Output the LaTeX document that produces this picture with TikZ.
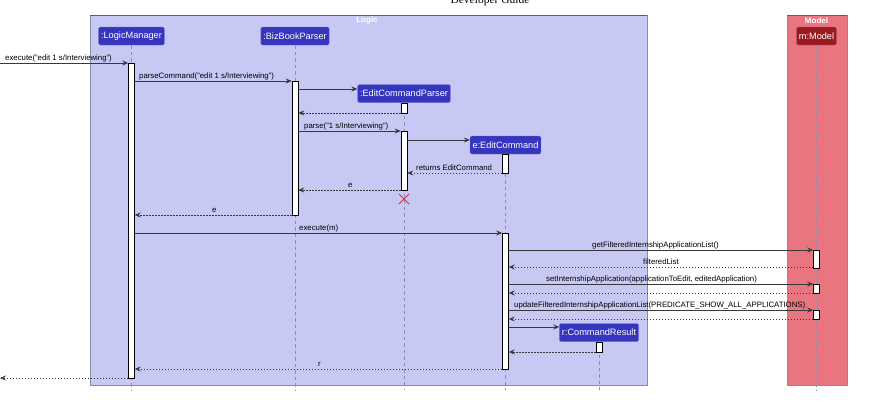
\documentclass[tikz,border=0pt]{standalone}
\usepackage{fontspec}
\setmainfont{Liberation Sans}
\newfontfamily\seriffam{Liberation Serif}
\usetikzlibrary{arrows.meta}
\definecolor{logicbg}{HTML}{C8C8F5}
\definecolor{modelbg}{HTML}{E8757F}
\definecolor{partblue}{HTML}{3535BE}
\definecolor{partred}{HTML}{9A1A20}
\definecolor{msgline}{HTML}{383838}
\definecolor{lifeclr}{HTML}{9090A8}
\definecolor{framebd}{HTML}{8A8AA0}
\definecolor{xred}{HTML}{C8324A}
\tikzset{
  part/.style={draw=#1!70!white, fill=#1, rounded corners=1.5pt, text=white, font=\fontsize{9.2}{10}\selectfont, minimum height=18pt, inner xsep=2.5pt, inner ysep=0pt},
  part/.default=partblue,
  lifeline/.style={draw=lifeclr, dash pattern=on 3.5pt off 3pt, line width=0.5pt},
  actbar/.style={draw=black, fill=white, line width=0.6pt, minimum width=6pt, inner sep=0pt},
  msg/.style={draw=msgline, line width=0.6pt, -{Stealth[length=6pt,width=5pt,inset=2.2pt]}},
  ret/.style={draw=msgline, line width=0.5pt, dash pattern=on 1.5pt off 1.5pt, -{Stealth[length=6pt,width=5pt,inset=2.2pt]}},
  lbl/.style={font=\fontsize{7.8}{9}\selectfont, inner sep=0pt, anchor=base west, text=black},
  ftitle/.style={font=\bfseries\fontsize{8}{9}\selectfont, text=white, inner sep=0pt},
}
\newcommand{\actb}[4]{\node[actbar, minimum height=#4pt-#3pt] (#1) at (#2,{(#3+#4)/2}) {};}
\begin{document}
\begin{tikzpicture}[x=1pt,y=-1pt]
\useasboundingbox (0,0) rectangle (872,407);
\node[font=\seriffam\fontsize{11.5}{12}\selectfont, anchor=base, inner sep=0pt] (hdr) at (490,3.5) {Developer Guide};
% frames
\draw[draw=framebd, fill=logicbg, line width=0.6pt] (90,15) rectangle (647,385);
\draw[draw=msgline!80, line width=0.6pt] (90,15) -- (647,15);
\node[ftitle] (logict) at (367,20.5) {Logic};
\draw[draw=framebd, fill=modelbg, line width=0.6pt] (787,15) rectangle (847,385);
\draw[draw=msgline!80, line width=0.6pt] (787,15) -- (847,15);
\node[ftitle] (modelt) at (816.5,20.5) {Model};
% participants
\node[part] (lm) at (131.5,36) {:LogicManager};
\node[part] (bp) at (295,36) {:BizBookParser};
\node[part] (ecp) at (404,93.5) {:EditCommandParser};
\node[part] (ec) at (505.5,145) {e:EditCommand};
\node[part] (cr) at (599,332.5) {r:CommandResult};
\node[part=partred] (mm) at (816.5,36) {m:Model};
% lifelines
\draw[lifeline] (lm.south) -- (lm.south |- 0,390);
\draw[lifeline] (bp.south) -- (bp.south |- 0,390);
\draw[lifeline] (ecp.south) -- (ecp.south |- 0,390);
\draw[lifeline] (ec.south) -- (ec.south |- 0,390);
\draw[lifeline] (cr.south) -- (cr.south |- 0,390);
\draw[lifeline] (mm.south) -- (mm.south |- 0,390);
% activation bars
\actb{a1}{131.5}{63}{378}
\actb{a2}{295}{81}{215}
\actb{a3}{404}{103}{113}
\actb{a4}{404}{131}{190}
\actb{a5}{505.5}{154}{173}
\actb{a6}{505.5}{233}{369}
\actb{a7}{816.5}{250}{268}
\actb{a8}{816.5}{284}{293}
\actb{a9}{816.5}{310}{319}
\actb{a10}{599}{342}{352}
\coordinate (inL) at (0,63);
\coordinate (outL) at (0,378);
% messages
\draw[msg] (inL) -- (a1.west |- inL);
\node[lbl] at (5,60) {execute("edit 1 s/Interviewing")};
\draw[msg] (a1.east |- 0,81) -- (a2.west |- 0,81);
\node[lbl] at (139,78) {parseCommand("edit 1 s/Interviewing")};
\draw[msg] (a2.east |- 0,89) -- (ecp.west |- 0,89);
\draw[ret] (a3.west |- 0,113) -- (a2.east |- 0,113);
\draw[msg] (a2.east |- 0,131) -- (a4.west |- 0,131);
\node[lbl] at (304,128) {parse("1 s/Interviewing")};
\draw[msg] (a4.east |- 0,140) -- (ec.west |- 0,140);
\draw[ret] (a5.west |- 0,173) -- (a4.east |- 0,173);
\node[lbl] at (416,170) {returns EditCommand};
\draw[ret] (a4.west |- 0,190) -- (a2.east |- 0,190);
\node[lbl] at (348,187) {e};
\draw[xred, line width=0.8pt] (399,194) -- (409,204) (399,204) -- (409,194);
\draw[ret] (a2.west |- 0,215) -- (a1.east |- 0,215);
\node[lbl] at (212,212) {e};
\draw[msg] (a1.east |- 0,233) -- (a6.west |- 0,233);
\node[lbl] at (299,230) {execute(m)};
\draw[msg] (a6.east |- 0,250) -- (a7.west |- 0,250);
\node[lbl] at (592,247) {getFilteredInternshipApplicationList()};
\draw[ret] (a7.west |- 0,267) -- (a6.east |- 0,267);
\node[lbl] at (643,264) {filteredList};
\draw[msg] (a6.east |- 0,284) -- (a8.west |- 0,284);
\node[lbl] at (546,281) {setInternshipApplication(applicationToEdit, editedApplication)};
\draw[ret] (a8.west |- 0,293) -- (a6.east |- 0,293);
\draw[msg] (a6.east |- 0,310) -- (a9.west |- 0,310);
\node[lbl] at (514,307) {updateFilteredInternshipApplicationList(PREDICATE\_SHOW\_ALL\_APPLICATIONS)};
\draw[ret] (a9.west |- 0,319) -- (a6.east |- 0,319);
\draw[msg, line width=0.9pt] (a6.east |- 0,327) -- (cr.west |- 0,327);
\draw[ret] (a10.west |- 0,352) -- (a6.east |- 0,352);
\draw[ret] (a6.west |- 0,369) -- (a1.east |- 0,369);
\node[lbl] at (318,366) {r};
\draw[ret] (a1.west |- outL) -- (outL);
\end{tikzpicture}
\end{document}
